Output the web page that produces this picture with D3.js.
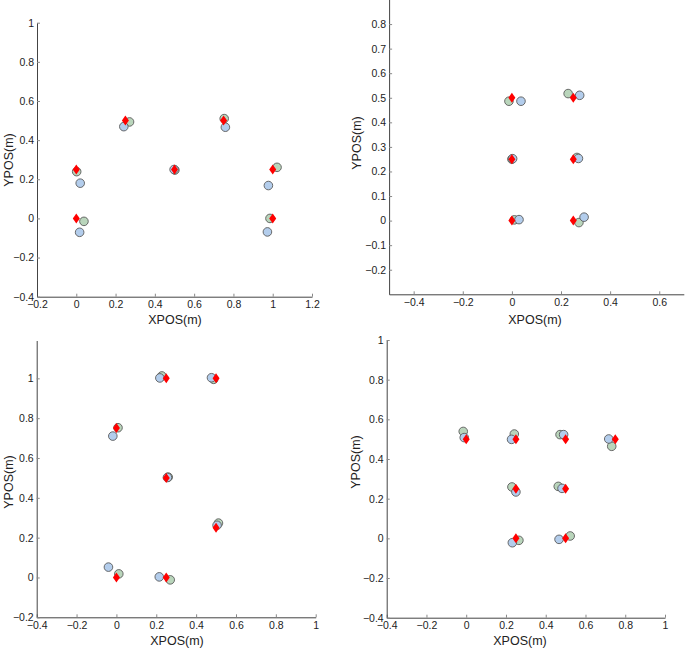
<!DOCTYPE html>
<html><head><meta charset="utf-8">
<script src="https://cdn.jsdelivr.net/npm/d3@7"></script>
<style>
html,body{margin:0;padding:0;background:#fff;}
svg{display:block;}
text{font-family:"Liberation Sans",Arial,sans-serif;fill:#222;}
</style></head>
<body>
<svg id="c" width="685" height="648"></svg>
<script>
// ---- data (metres) ----
// Panel A
const aRefX   = [0, 0, 0.25, 0.5, 0.75, 1, 1];
const aRefY   = [0.25, 0, 0.5, 0.25, 0.5, 0.25, 0];
const aGreenX = [0.002, 0.039, 0.271, 0.502, 0.753, 1.022, 0.986];
const aGreenY = [0.239, -0.015, 0.493, 0.247, 0.510, 0.261, 0.000];
const aBlueX  = [0.020, 0.017, 0.242, 0.498, 0.759, 0.978, 0.973];
const aBlueY  = [0.180, -0.071, 0.469, 0.250, 0.466, 0.168, -0.069];
// Panel B
const bRefX   = [0, 0, 0, 0.25, 0.25, 0.25];
const bRefY   = [0.5, 0.25, 0, 0.5, 0.25, 0];
const bGreenX = [-0.012, 0.000, 0.010, 0.229, 0.265, 0.273];
const bGreenY = [0.486, 0.250, 0.003, 0.517, 0.257, -0.008];
const bBlueX  = [0.037, 0.003, 0.029, 0.276, 0.271, 0.294];
const bBlueY  = [0.486, 0.252, 0.004, 0.510, 0.253, 0.014];
// Panel C
const cRefX   = [0.25, 0.5, 0, 0.25, 0.5, 0, 0.25];
const cRefY   = [1, 1, 0.75, 0.5, 0.25, 0, 0];
const cGreenX = [0.228, 0.488, 0.008, 0.260, 0.512, 0.012, 0.270];
const cGreenY = [1.012, 0.995, 0.752, 0.504, 0.273, 0.018, -0.012];
const cBlueX  = [0.218, 0.477, -0.018, 0.256, 0.505, -0.040, 0.215];
const cBlueY  = [1.002, 1.003, 0.710, 0.502, 0.262, 0.052, 0.003];
// Panel D
const dRefX   = [0, 0.25, 0.5, 0.75, 0.25, 0.5, 0.25, 0.5];
const dRefY   = [0.5, 0.5, 0.5, 0.5, 0.25, 0.25, 0, 0];
const dGreenX = [-0.015, 0.242, 0.472, 0.732, 0.230, 0.463, 0.265, 0.523];
const dGreenY = [0.539, 0.526, 0.523, 0.464, 0.259, 0.262, -0.010, 0.012];
const dBlueX  = [-0.010, 0.228, 0.490, 0.717, 0.250, 0.482, 0.232, 0.467];
const dBlueY  = [0.508, 0.499, 0.523, 0.501, 0.234, 0.252, -0.022, -0.005];

// tick values
const aXTicks = [-0.2, 0, 0.2, 0.4, 0.6, 0.8, 1, 1.2];
const aYTicks = [-0.4, -0.2, 0, 0.2, 0.4, 0.6, 0.8, 1];
const bXTicks = [-0.4, -0.2, 0, 0.2, 0.4, 0.6];
const bYTicks = [-0.2, -0.1, 0, 0.1, 0.2, 0.3, 0.4, 0.5, 0.6, 0.7, 0.8];
const cXTicks = [-0.4, -0.2, 0, 0.2, 0.4, 0.6, 0.8, 1];
const cYTicks = [-0.2, 0, 0.2, 0.4, 0.6, 0.8, 1];
const dXTicks = [-0.4, -0.2, 0, 0.2, 0.4, 0.6, 0.8, 1];
const dYTicks = [-0.4, -0.2, 0, 0.2, 0.4, 0.6, 0.8, 1];

const xLabel = "XPOS(m)", yLabel = "YPOS(m)";

// ---- layout ----
const panels = [
  {refX:aRefX, refY:aRefY, gX:aGreenX, gY:aGreenY, bX:aBlueX, bY:aBlueY,
   xd:[-0.2,1.2], yd:[-0.4,1], xr:[37,312], yr:[296.7,22.7], xt:aXTicks, yt:aYTicks,
   xl:[175,323.5], yl:[9,160]},
  {refX:bRefX, refY:bRefY, gX:bGreenX, gY:bGreenY, bX:bBlueX, bY:bBlueY,
   xd:[-0.5,0.7], yd:[-0.3,0.9], xr:[389.1,683.8], yr:[294.3,-0.5], xt:bXTicks, yt:bYTicks,
   xl:[535,323.5], yl:[357,143]},
  {refX:cRefX, refY:cRefY, gX:cGreenX, gY:cGreenY, bX:cBlueX, bY:cBlueY,
   xd:[-0.4,1], yd:[-0.2,1.19], xr:[36.7,315.7], yr:[617.3,340.5], xt:cXTicks, yt:cYTicks,
   xl:[177,644.5], yl:[9,482]},
  {refX:dRefX, refY:dRefY, gX:dGreenX, gY:dGreenY, bX:dBlueX, bY:dBlueY,
   xd:[-0.4,1], yd:[-0.4,1], xr:[386.7,665], yr:[617.7,340], xt:dXTicks, yt:dYTicks,
   xl:[520,644.5], yl:[356,462]}
];

const svg = d3.select("#c");
const fmt = v => (v < 0 ? "\u2212" : "") + d3.format("~g")(Math.abs(v));
const diamond = {draw(ctx, size){ const w=3.5, h=5; ctx.moveTo(0,-h); ctx.lineTo(w,0); ctx.lineTo(0,h); ctx.lineTo(-w,0); ctx.closePath(); }};

panels.forEach(p => {
  const x = d3.scaleLinear().domain(p.xd).range(p.xr);
  const y = d3.scaleLinear().domain(p.yd).range(p.yr);
  const g = svg.append("g");
  const x0 = p.xr[0], y0 = p.yr[0];

  const xa = g.append("g").attr("transform", `translate(0,${y0})`)
    .call(d3.axisBottom(x).tickValues(p.xt).tickFormat(fmt).tickSizeInner(-3).tickSizeOuter(0).tickPadding(4));
  const ya = g.append("g").attr("transform", `translate(${x0},0)`)
    .call(d3.axisLeft(y).tickValues(p.yt).tickFormat(fmt).tickSizeInner(-3).tickSizeOuter(0).tickPadding(3));
  [xa, ya].forEach(a => {
    a.select(".domain").attr("stroke", "#444").attr("stroke-width", 1);
    a.selectAll(".tick line").attr("stroke", "#888");
    a.selectAll(".tick text").attr("font-size", "10.5px").attr("fill", "#222")
      .attr("font-family", "'Liberation Sans',Arial,sans-serif");
  });

  g.append("text").attr("x", p.xl[0]).attr("y", p.xl[1]).attr("text-anchor", "middle")
    .attr("font-size", "12.5px").text(xLabel);
  g.append("text").attr("transform", `translate(${p.yl[0]},${p.yl[1]}) rotate(-90)`)
    .attr("text-anchor", "middle").attr("dy", "0.35em").attr("font-size", "12.5px").text(yLabel);

  const green = d3.range(p.gX.length).map(i => [p.gX[i], p.gY[i]]);
  const blue  = d3.range(p.bX.length).map(i => [p.bX[i], p.bY[i]]);
  const ref   = d3.range(p.refX.length).map(i => [p.refX[i], p.refY[i]]);

  g.selectAll(".g").data(green).join("circle")
    .attr("cx", d => x(d[0])).attr("cy", d => y(d[1])).attr("r", 4.3)
    .attr("fill", "#b9d5bb").attr("stroke", "#5a5a5a").attr("stroke-width", 0.9);
  g.selectAll(".b").data(blue).join("circle")
    .attr("cx", d => x(d[0])).attr("cy", d => y(d[1])).attr("r", 4.3)
    .attr("fill", "#b3cdec").attr("stroke", "#5a5a5a").attr("stroke-width", 0.9);
  g.selectAll(".r").data(ref).join("path")
    .attr("transform", d => `translate(${x(d[0])},${y(d[1])})`)
    .attr("d", d3.symbol().type(diamond)())
    .attr("fill", "#ff0000");
});
</script>
</body></html>
